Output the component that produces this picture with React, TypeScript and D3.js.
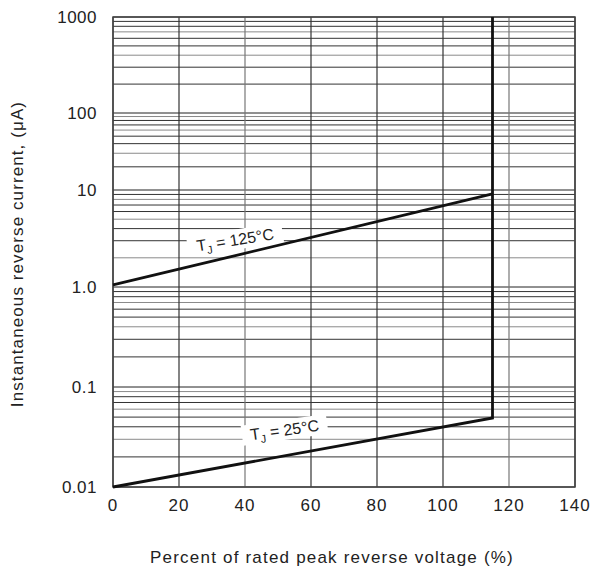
import * as d3 from "d3";

const yDecades = [0.01, 0.1, 1, 10, 100, 1000];
const yTickLabels = ["0.01", "0.1", "1.0", "10", "100", "1000"];
const xTicks = [0, 20, 40, 60, 80, 100, 120, 140];

// reverse current (uA) vs percent of rated voltage
const curve125 = [
  { v: 0, i: 1.05 },
  { v: 115, i: 9.1 },
];
const curve25 = [
  { v: 0, i: 0.01 },
  { v: 115, i: 0.049 },
  { v: 115, i: 1000 },
];

const W = 595;
const H = 572;
const font = "'Liberation Sans', Arial, sans-serif";

const App = () => {
  const x = d3.scaleLinear().domain([0, 140]).range([113, 575]);
  // scanned chart has uneven decades, so use a piecewise log scale
  const y = d3
    .scaleLog()
    .domain(yDecades)
    .range([487, 387, 287, 190, 113, 17]);

  const minor: number[] = [];
  for (let k = 0; k < yDecades.length - 1; k++) {
    for (let m = 2; m <= 9; m++) minor.push(yDecades[k] * m);
  }

  const line = d3
    .line<{ v: number; i: number }>()
    .x((d) => x(d.v))
    .y((d) => y(d.i));

  const label = (
    data: { v: number; i: number }[],
    at: number,
    off: number,
    angle: number,
    txt: string,
    w: number
  ) => {
    const a = data[0];
    const b = data[1];
    const t = (at - a.v) / (b.v - a.v);
    const li = Math.exp(Math.log(a.i) + t * (Math.log(b.i) - Math.log(a.i)));
    const cx = x(at);
    const cy = y(li) + off;
    return (
      <g transform={`translate(${cx},${cy}) rotate(${angle})`}>
        <rect x={-w / 2} y={-10} width={w} height={20} fill="#fff" />
        <text
          textAnchor="middle"
          dy="0.36em"
          fontSize={16}
          fontFamily={font}
          fill="#222"
        >
          T
          <tspan fontSize={11} dy={4}>
            J
          </tspan>
          <tspan dy={-4}>{txt}</tspan>
        </text>
      </g>
    );
  };

  return (
    <svg
      width={W}
      height={H}
      style={{ position: "absolute", left: 0, top: 0, background: "#fff" }}
    >
      {minor.map((m, idx) => (
        <line
          key={"m" + idx}
          x1={x(0)}
          x2={x(140)}
          y1={y(m)}
          y2={y(m)}
          stroke={idx % 3 === 1 ? "#8a8a8a" : "#333"}
          strokeWidth={1}
        />
      ))}
      {yDecades.map((d) => (
        <line
          key={"d" + d}
          x1={x(0)}
          x2={x(140)}
          y1={y(d)}
          y2={y(d)}
          stroke="#222"
          strokeWidth={1}
        />
      ))}
      {xTicks.map((t, idx) => (
        <line
          key={"x" + t}
          x1={x(t)}
          x2={x(t)}
          y1={y(0.01)}
          y2={y(1000)}
          stroke={idx === 2 || idx === 6 ? "#777" : "#333"}
          strokeWidth={1.2}
        />
      ))}
      <rect
        x={x(0)}
        y={y(1000)}
        width={x(140) - x(0)}
        height={y(0.01) - y(1000)}
        fill="none"
        stroke="#444"
        strokeWidth={1.5}
      />

      {label(curve125, 37, -16, -9, " = 125°C", 96)}
      {label(curve25, 52, -26, -8, " = 25°C", 86)}

      <path d={line(curve125) ?? ""} fill="none" stroke="#111" strokeWidth={2.8} />
      <path d={line(curve25) ?? ""} fill="none" stroke="#111" strokeWidth={2.8} />

      {yDecades.map((d, idx) => (
        <text
          key={"yl" + d}
          x={97}
          y={y(d)}
          dy="0.36em"
          textAnchor="end"
          fontSize={17}
          letterSpacing={0.5}
          fontFamily={font}
          fill="#222"
        >
          {yTickLabels[idx]}
        </text>
      ))}
      {xTicks.map((t) => (
        <text
          key={"xl" + t}
          x={x(t)}
          y={511}
          textAnchor="middle"
          fontSize={17}
          letterSpacing={1}
          fontFamily={font}
          fill="#222"
        >
          {t}
        </text>
      ))}
      <text
        x={332}
        y={563}
        textAnchor="middle"
        fontSize={17}
        letterSpacing={1.2}
        fontFamily={font}
        fill="#222"
      >
        Percent of rated peak reverse voltage (%)
      </text>
      <text
        transform="translate(23,254) rotate(-90)"
        textAnchor="middle"
        fontSize={17}
        letterSpacing={1.1}
        fontFamily={font}
        fill="#222"
      >
        Instantaneous reverse current, (μA)
      </text>
    </svg>
  );
};

export default App;
